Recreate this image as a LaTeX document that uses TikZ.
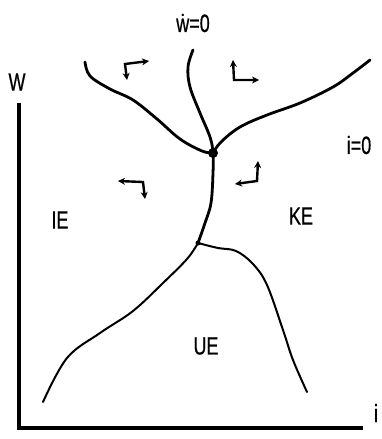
\documentclass[tikz,border=0pt]{standalone}
\usepackage{fontspec}
\setmainfont{Liberation Sans}
\newfontfamily\labfont[FakeStretch=0.72,FakeBold=0.6]{Liberation Sans}
\usetikzlibrary{arrows.meta}
\begin{document}
\begin{tikzpicture}[x=1pt,y=-1pt,
  lab/.style={font=\labfont\fontsize{25}{25}\selectfont, inner sep=0pt},
  curve/.style={line width=2.8pt, line cap=round, line join=round},
  thin curve/.style={line width=2pt, line cap=round, line join=round},
  axis/.style={line width=4.5pt, line cap=butt, line join=miter},
  dirarr/.style={line width=2.4pt, {Stealth[length=7pt,width=7pt]}-{Stealth[length=7pt,width=7pt]}}]
\useasboundingbox (0,0) rectangle (382,439);
% axes
\coordinate (ytop) at (19,103);
\coordinate (orig) at (19,428);
\coordinate (xend) at (363,428);
\draw[axis] (ytop) -- (orig) -- (xend);
\node[lab] (W) at (17,82) {W};
\node[lab] (iax) at (376,413) {i};
% key points
\coordinate (E) at (213,153);
\coordinate (J) at (198,243);
\fill (E) circle (5pt);
\fill (J) circle (2.5pt);
% i-dot = 0 curve (upper)
\draw[curve] plot[smooth,tension=0.6] coordinates {(85,62) (90,76) (110,89) (133,100) (157,119) (180,139) (202,151) (E)};
\draw[curve] plot[smooth,tension=0.6] coordinates {(E) (221,142) (240,127) (267,115) (300,103) (333,87) (353,73) (370,60)};
% w-dot = 0 curve
\draw[curve] plot[smooth,tension=0.6] coordinates {(193,50) (188,67) (190,87) (200,113) (210,137) (E) (213,173) (211,203) (205,223) (J)};
% lower curves
\draw[thin curve] plot[smooth,tension=0.6] coordinates {(J) (187,259) (163,283) (133,311) (100,333) (67,358) (43,402)};
\draw[thin curve] plot[smooth,tension=0.6] coordinates {(J) (218,248) (236,251) (253,264) (267,285) (283,330) (293,360) (307,392)};
% direction arrows
\coordinate (c1) at (125,64);
\draw[dirarr] (149,61) -- (c1) -- (127,80);
\coordinate (c2) at (234,80);
\draw[dirarr] (233,60) -- (c2) -- (259,80);
\coordinate (c3) at (143,182);
\draw[dirarr] (118,181) -- (c3) -- (145,199);
\coordinate (c4) at (257,181);
\draw[dirarr] (258,161) -- (c4) -- (235,184);
% labels
\node[lab] (wdot) at (193,23) {\.{w}=0};
\node[lab] (idot) at (359,145) {i=0};
\node[lab] (IE) at (60,220) {IE};
\node[lab] (KE) at (301,216) {KE};
\node[lab] (UE) at (206,346) {UE};
\end{tikzpicture}
\end{document}
